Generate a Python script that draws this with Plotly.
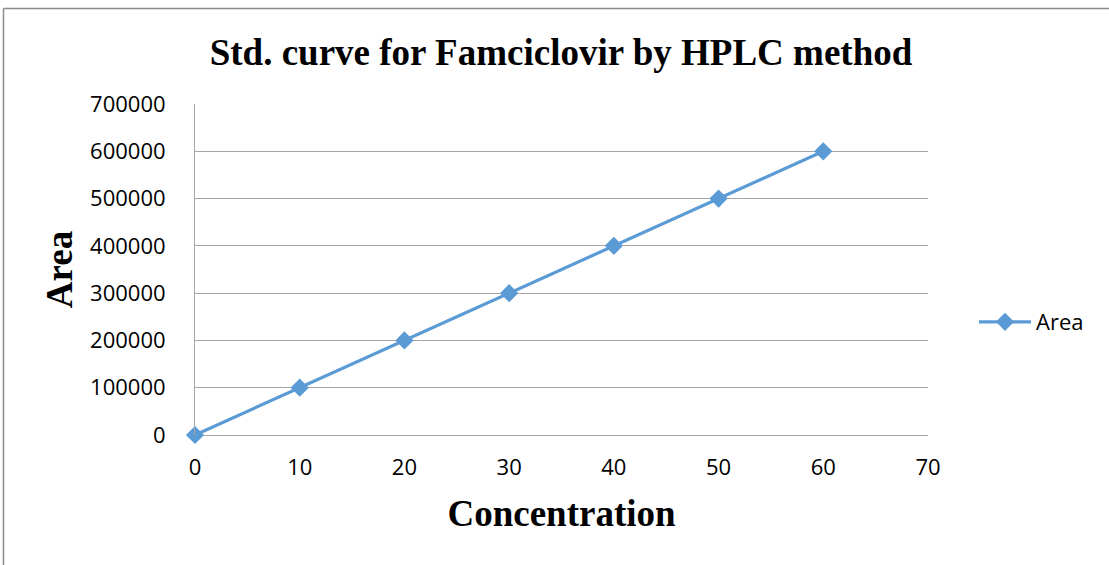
import plotly.graph_objects as go

# Calibration data for Famciclovir (HPLC)
concentration = [0, 10, 20, 30, 40, 50, 60]
area = [0, 100000, 200000, 300000, 400000, 500000, 600000]
x_ticks = [0, 10, 20, 30, 40, 50, 60, 70]
y_ticks = [0, 100000, 200000, 300000, 400000, 500000, 600000, 700000]

W, H = 1109, 565
L, R, T, B = 195, 181, 104, 130
pw, ph = W - L - R, H - T - B

line_color = "#5B9BD5"
grid_color = "#A6A6A6"
tick_font = dict(family="Open Sans, Liberation Sans, sans-serif", size=22, color="#000000")
serif_bold = dict(family="Liberation Serif, Times New Roman, serif", color="#000000")

fig = go.Figure()
fig.add_trace(go.Scatter(
    x=concentration, y=area, name="Area", mode="lines+markers",
    line=dict(color=line_color, width=3.2),
    marker=dict(symbol="diamond", size=14, color=line_color),
    cliponaxis=False,
))

fig.update_layout(
    width=W, height=H,
    margin=dict(l=L, r=R, t=T, b=B),
    paper_bgcolor="white", plot_bgcolor="white",
    showlegend=True,
    legend=dict(x=(974 - L) / pw, y=(H - B - 322) / ph, yanchor="middle", xanchor="left",
                font=tick_font, bgcolor="rgba(0,0,0,0)", itemwidth=52),
    title=dict(text="<b>Std. curve for Famciclovir by HPLC method</b>",
               x=561 / W, xanchor="center", y=1 - 52 / H, yanchor="middle",
               font=dict(size=37, **serif_bold)),
)

fig.update_xaxes(
    range=[0, 70], tickvals=x_ticks, ticktext=[str(v) for v in x_ticks],
    showgrid=False, zeroline=False, showline=False, ticks="",
    tickfont=tick_font, ticklabelstandoff=17,
    title=dict(text="<b>Concentration</b>", font=dict(size=37, **serif_bold), standoff=20),
)
fig.update_yaxes(
    range=[0, 700000], tickvals=y_ticks, ticktext=[str(v) for v in y_ticks],
    showgrid=True, gridcolor=grid_color, gridwidth=1,
    zeroline=True, zerolinecolor=grid_color, zerolinewidth=1,
    showline=True, linecolor=grid_color, linewidth=1, ticks="",
    tickfont=tick_font, ticklabelstandoff=24,
    title=dict(text="<b>Area</b>", font=dict(size=37, **serif_bold), standoff=6),
)

# Outer chart frame (left and top edges)
fx0 = (3.5 - L) / pw
fy1 = (H - B - 8.5) / ph
fig.add_shape(type="line", xref="paper", yref="paper", x0=fx0, x1=fx0, y0=-2, y1=fy1,
              line=dict(color="#8C8C8C", width=1.5))
fig.add_shape(type="line", xref="paper", yref="paper", x0=fx0, x1=3, y0=fy1, y1=fy1,
              line=dict(color="#8C8C8C", width=1.5))

fig.write_html("out.html")
